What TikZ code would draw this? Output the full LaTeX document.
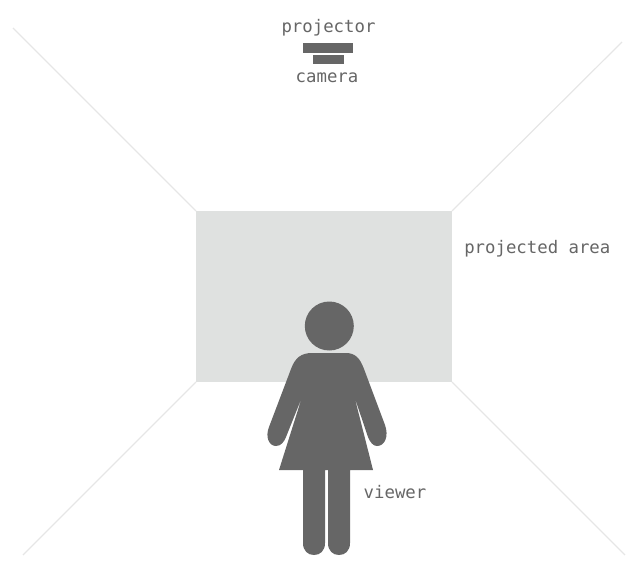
\documentclass[tikz,border=0pt]{standalone}
\usepackage{fontspec}
\setmonofont{DejaVu Sans Mono}
\definecolor{figgray}{HTML}{666666}
\definecolor{wallgray}{HTML}{DFE1E0}
\definecolor{edgegray}{HTML}{E6E6E6}
\tikzset{
  label/.style={font=\ttfamily\fontsize{13}{15}\selectfont,text=figgray,inner sep=0pt},
  corner/.style={draw=edgegray,line width=0.9pt},
  figure/.style={fill=figgray,draw=none}
}
\begin{document}
\begin{tikzpicture}[x=0.75pt,y=-0.75pt]
\useasboundingbox (0,0) rectangle (642,570);
% room
\draw[corner] (13,28)--(196,211);
\draw[corner] (622,42)--(452,211);
\draw[corner] (196,382)--(23,555);
\draw[corner] (452,382)--(625,555);
\fill[wallgray] (196,211) rectangle (452,382);
% projector and camera
\fill[figure] (303,43) rectangle (353,53);
\fill[figure] (313,55) rectangle (344,64);
\node[label] (projector) at (328.5,28) {projector};
\node[label] (camera) at (327,78) {camera};
\node[label,anchor=west] (area) at (464,249) {projected area};
\node[label] (viewer) at (395,492) {viewer};
% person
\fill[figure] (329.3,326) circle (24.5);
\fill[figure] (312,353) -- (346,353)
  .. controls (355,353) and (360,358) .. (364,369)
  -- (385,425)
  .. controls (389,436) and (385,446) .. (377,446)
  .. controls (373,446) and (370,442) .. (368,437)
  -- (354.5,397)
  -- (373,470) -- (350,470) -- (350,543)
  .. controls (350,551) and (345,555) .. (339,555)
  .. controls (333,555) and (328,551) .. (328,543)
  -- (328,470) -- (325,470) -- (325,543)
  .. controls (325,551) and (320,555) .. (314,555)
  .. controls (308,555) and (303,551) .. (303,543)
  -- (303,470) -- (279,470)
  -- (302,397)
  -- (286,437)
  .. controls (284,442) and (281,446) .. (276,446)
  .. controls (269,446) and (265,437) .. (269,427)
  -- (291,369)
  .. controls (295,358) and (301,353) .. (312,353) -- cycle;
\end{tikzpicture}
\end{document}
